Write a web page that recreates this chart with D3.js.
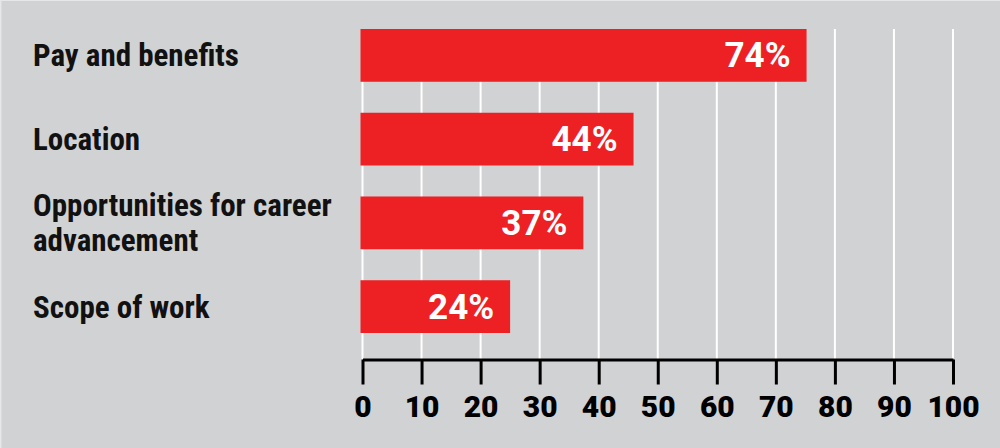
<!DOCTYPE html>
<meta charset="utf-8">
<script src="https://d3js.org/d3.v7.min.js"></script>
<style>
  body { margin: 0; background: #e6e7e8; }
  text { font-family: Roboto, "Open Sans", sans-serif; font-weight: bold; }
  .cat { font-family: "Roboto Condensed", "Liberation Sans Narrow", Roboto, sans-serif; }
</style>
<div id="chart"></div>
<script>
// data
const categories = ["Pay and benefits", "Location", "Opportunities for career advancement", "Scope of work"];
const labelLines = [["Pay and benefits"], ["Location"], ["Opportunities for career", "advancement"], ["Scope of work"]];
const percentLabels = [74, 44, 37, 24];
// bar lengths as drawn against the axis
const barLengths = [75.2, 45.9, 37.4, 25.0];
const ticks = [0, 10, 20, 30, 40, 50, 60, 70, 80, 90, 100];

const width = 1000, height = 448;

const svg = d3.select("#chart")
  .append("svg")
  .attr("width", width)
  .attr("height", height);

svg.append("rect")
  .attr("x", 1.5).attr("y", 1)
  .attr("width", width - 1.5).attr("height", height - 1)
  .attr("fill", "#d1d2d4");

const x = d3.scaleLinear().domain([0, 100]).range([362.5, 953]);
const y = d3.scaleBand().domain(categories).range([29, 333]).paddingInner(0.37).paddingOuter(0);

const axisY = 359.5;

// white gridlines
svg.append("g")
  .selectAll("line")
  .data(ticks)
  .join("line")
    .attr("x1", d => x(d)).attr("x2", d => x(d))
    .attr("y1", 29).attr("y2", axisY)
    .attr("stroke", "#fff")
    .attr("stroke-width", 2);

// bars
svg.append("g")
  .selectAll("rect")
  .data(categories)
  .join("rect")
    .attr("x", x(0) - 2)
    .attr("y", d => y(d))
    .attr("width", (d, i) => x(barLengths[i]) - x(0) + 2)
    .attr("height", y.bandwidth())
    .attr("fill", "#ed2024");

// value labels inside bars
svg.append("g")
  .selectAll("text")
  .data(categories)
  .join("text")
    .attr("x", (d, i) => x(barLengths[i]) - 16)
    .attr("y", d => y(d) + y.bandwidth() / 2 + 12)
    .attr("text-anchor", "end")
    .attr("fill", "#fff")
    .style("font-size", "35px")
    .text((d, i) => percentLabels[i] + "%");

// category labels
const lab = svg.append("g")
  .selectAll("text")
  .data(categories)
  .join("text")
    .attr("class", "cat")
    .attr("x", 33)
    .attr("y", (d, i) => y(d) + y.bandwidth() / 2 + 11 - (labelLines[i].length - 1) * 17.5)
    .attr("fill", "#111")
    .style("font-size", "31px");

lab.selectAll("tspan")
  .data((d, i) => labelLines[i])
  .join("tspan")
    .attr("x", 33)
    .attr("dy", (d, i) => i === 0 ? 0 : 35)
    .text(d => d);

// bottom axis
const axis = svg.append("g")
  .attr("transform", `translate(0, ${axisY})`)
  .call(d3.axisBottom(x).tickValues(ticks).tickSize(25).tickSizeOuter(0).tickPadding(11));

axis.select(".domain").attr("stroke", "#000").attr("stroke-width", 3);
axis.selectAll(".tick line").attr("stroke", "#000").attr("stroke-width", 3);
axis.selectAll(".tick text")
  .attr("fill", "#000")
  .style("font-size", "30px")
  .style("font-weight", "900")
  .style("font-family", "Roboto, 'Open Sans', sans-serif");
</script>
